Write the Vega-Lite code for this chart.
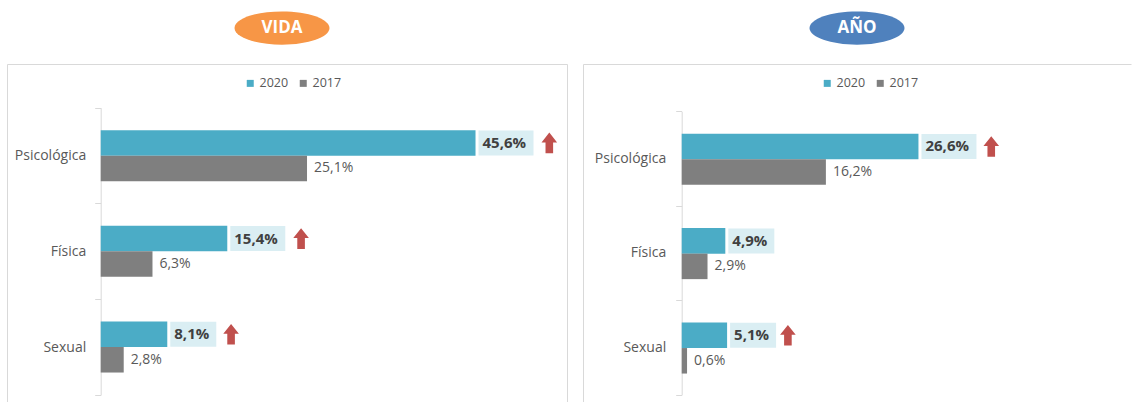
{
  "$schema": "https://vega.github.io/schema/vega-lite/v6.json",
  "padding": {"left": 6, "top": 0, "right": 0, "bottom": 0},
  "background": "white",
  "config": {
    "locale": {"number": {"decimal": ",", "thousands": ".", "grouping": [3], "currency": ["", " €"]}},
    "font": "Open Sans"
  },
  "datasets": {
    "vida": [
      {"tipo": "Psicológica", "anio": "2020", "valor": 0.456, "sube": true},
      {"tipo": "Psicológica", "anio": "2017", "valor": 0.251, "sube": false},
      {"tipo": "Física", "anio": "2020", "valor": 0.154, "sube": true},
      {"tipo": "Física", "anio": "2017", "valor": 0.063, "sube": false},
      {"tipo": "Sexual", "anio": "2020", "valor": 0.081, "sube": true},
      {"tipo": "Sexual", "anio": "2017", "valor": 0.028, "sube": false}
    ],
    "anual": [
      {"tipo": "Psicológica", "anio": "2020", "valor": 0.266, "sube": true},
      {"tipo": "Psicológica", "anio": "2017", "valor": 0.162, "sube": false},
      {"tipo": "Física", "anio": "2020", "valor": 0.049, "sube": false},
      {"tipo": "Física", "anio": "2017", "valor": 0.029, "sube": false},
      {"tipo": "Sexual", "anio": "2020", "valor": 0.051, "sube": true},
      {"tipo": "Sexual", "anio": "2017", "valor": 0.006, "sube": false}
    ]
  },
  "spacing": 14,
  "resolve": {"scale": {"color": "independent", "x": "independent", "y": "independent"}, "legend": {"color": "independent"}},
  "hconcat": [
    {
      "spacing": 0,
      "resolve": {"scale": {"color": "independent"}, "legend": {"color": "independent"}},
      "vconcat": [
        {
          "width": 550, "height": 56,
          "view": {"stroke": null},
          "data": {"values": [{"titulo": "VIDA"}]},
          "layer": [
            {"mark": {"type": "point", "filled": true, "opacity": 1, "color": "#f79646", "strokeWidth": 0, "size": 9025, "shape": "M-1,0C-1,-0.193 -0.552,-0.35 0,-0.35C0.552,-0.35 1,-0.193 1,0C1,0.193 0.552,0.35 0,0.35C-0.552,0.35 -1,0.193 -1,0Z"}, "encoding": {}},
            {"mark": {"type": "text", "color": "white", "fontWeight": "bold", "fontSize": 17, "baseline": "middle", "align": "center"}, "encoding": {"text": {"field": "titulo"}}}
          ]
        },
        {
          "width": 560, "height": 338,
          "view": {"stroke": "#d9d9d9", "strokeDash": [898, 560, 338, 0]},
          "data": {"name": "vida"},
          "encoding": {
            "y": {"field": "tipo", "type": "nominal", "sort": ["Psicológica", "Física", "Sexual"], "title": null,
                  "scale": {"paddingInner": 0, "paddingOuter": 0.266, "align": 0.86},
                  "axis": {"offset": -93.7, "domainColor": "#d9d9d9", "domainDash": [0, 43.7, 287.1, 60], "tickColor": "#d9d9d9", "tickSize": 6, "tickBand": "extent", "labelFontSize": 14, "labelColor": "#595959", "labelPadding": 9, "grid": false}},
            "x": {"field": "valor", "type": "quantitative", "scale": {"domain": [-0.114, 0.5673], "nice": false, "zero": false}, "axis": null},
            "yOffset": {"field": "anio", "sort": ["2020", "2017"], "scale": {"paddingInner": 0, "paddingOuter": 0.876}}
          },
          "layer": [
            {"mark": {"type": "bar"},
             "encoding": {"color": {"field": "anio", "type": "nominal", "scale": {"domain": ["2020", "2017"], "range": ["#4bacc6", "#7f7f7f"]},
               "legend": {"orient": "none", "legendX": 237, "legendY": 13, "direction": "horizontal", "title": null, "symbolType": "square", "symbolSize": 49, "symbolStrokeWidth": 0, "symbolOpacity": 1, "labelFontSize": 12.5, "labelColor": "#595959", "labelOffset": 3, "columnPadding": 8, "padding": 0}}}},
            {"transform": [{"filter": "datum.anio == '2020'"}],
             "mark": {"type": "point", "filled": true, "opacity": 1, "size": 400, "color": "#daeef3", "strokeWidth": 0},
             "encoding": {"shape": {"condition": {"test": "datum.valor >= 0.1", "value": "M0.3,-1.25H5.8V1.25H0.3Z"}, "value": "M0.3,-1.25H4.9V1.25H0.3Z"}}},
            {"transform": [{"filter": "datum.anio == '2020' && datum.sube"}],
             "mark": {"type": "point", "filled": true, "opacity": 1, "size": 400, "color": "#c0504d", "strokeWidth": 0},
             "encoding": {"shape": {"condition": {"test": "datum.valor >= 0.1", "value": "M7.38,-1.03L8.16,-0.05L7.76,-0.05L7.76,1.03L7,1.03L7,-0.05L6.6,-0.05Z"}, "value": "M6.38,-1.03L7.16,-0.05L6.76,-0.05L6.76,1.03L6,1.03L6,-0.05L5.6,-0.05Z"}}},
            {"transform": [{"filter": "datum.anio == '2020'"}],
             "mark": {"type": "text", "align": "left", "baseline": "middle", "dx": 7, "fontSize": 15, "fontWeight": "bold", "color": "#404040"},
             "encoding": {"text": {"field": "valor", "type": "quantitative", "format": ".1%"}}},
            {"transform": [{"filter": "datum.anio == '2017'"}],
             "mark": {"type": "text", "align": "left", "baseline": "middle", "dx": 7, "fontSize": 14, "color": "#595959"},
             "encoding": {"text": {"field": "valor", "type": "quantitative", "format": ".1%"}}}
          ]
        }
      ]
    },
    {
      "spacing": 0,
      "resolve": {"scale": {"color": "independent"}, "legend": {"color": "independent"}},
      "vconcat": [
        {
          "width": 548, "height": 56,
          "view": {"stroke": null},
          "data": {"values": [{"titulo": "AÑO"}]},
          "layer": [
            {"mark": {"type": "point", "filled": true, "opacity": 1, "color": "#4f81bd", "strokeWidth": 0, "size": 9025, "shape": "M-1,0C-1,-0.193 -0.552,-0.35 0,-0.35C0.552,-0.35 1,-0.193 1,0C1,0.193 0.552,0.35 0,0.35C-0.552,0.35 -1,0.193 -1,0Z"}, "encoding": {}},
            {"mark": {"type": "text", "color": "white", "fontWeight": "bold", "fontSize": 17, "baseline": "middle", "align": "center"}, "encoding": {"text": {"field": "titulo"}}}
          ]
        },
        {
          "width": 548, "height": 338,
          "view": {"stroke": "#d9d9d9", "strokeDash": [548, 886, 338, 0]},
          "data": {"name": "anual"},
          "encoding": {
            "y": {"field": "tipo", "type": "nominal", "sort": ["Psicológica", "Física", "Sexual"], "title": null,
                  "scale": {"paddingInner": 0, "paddingOuter": 0.29, "align": 0.865},
                  "axis": {"offset": -98.7, "domainColor": "#d9d9d9", "domainDash": [0, 47.5, 283.2, 60], "tickColor": "#d9d9d9", "tickSize": 6, "tickBand": "extent", "labelFontSize": 14, "labelColor": "#595959", "labelPadding": 10, "grid": false}},
            "x": {"field": "valor", "type": "quantitative", "scale": {"domain": [-0.1109, 0.5048], "nice": false, "zero": false}, "axis": null},
            "yOffset": {"field": "anio", "sort": ["2020", "2017"], "scale": {"paddingInner": 0, "paddingOuter": 0.888}}
          },
          "layer": [
            {"mark": {"type": "bar"},
             "encoding": {"color": {"field": "anio", "type": "nominal", "scale": {"domain": ["2020", "2017"], "range": ["#4bacc6", "#7f7f7f"]},
               "legend": {"orient": "none", "legendX": 238, "legendY": 13, "direction": "horizontal", "title": null, "symbolType": "square", "symbolSize": 49, "symbolStrokeWidth": 0, "symbolOpacity": 1, "labelFontSize": 12.5, "labelColor": "#595959", "labelOffset": 3, "columnPadding": 8, "padding": 0}}}},
            {"transform": [{"filter": "datum.anio == '2020'"}],
             "mark": {"type": "point", "filled": true, "opacity": 1, "size": 400, "color": "#daeef3", "strokeWidth": 0},
             "encoding": {"shape": {"condition": {"test": "datum.valor >= 0.1", "value": "M0.3,-1.25H5.8V1.25H0.3Z"}, "value": "M0.3,-1.25H4.9V1.25H0.3Z"}}},
            {"transform": [{"filter": "datum.anio == '2020' && datum.sube"}],
             "mark": {"type": "point", "filled": true, "opacity": 1, "size": 400, "color": "#c0504d", "strokeWidth": 0},
             "encoding": {"shape": {"condition": {"test": "datum.valor >= 0.1", "value": "M7.28,-1.03L8.06,-0.05L7.66,-0.05L7.66,1.03L6.9,1.03L6.9,-0.05L6.5,-0.05Z"}, "value": "M6.08,-1.03L6.86,-0.05L6.46,-0.05L6.46,1.03L5.7,1.03L5.7,-0.05L5.3,-0.05Z"}}},
            {"transform": [{"filter": "datum.anio == '2020'"}],
             "mark": {"type": "text", "align": "left", "baseline": "middle", "dx": 7, "fontSize": 15, "fontWeight": "bold", "color": "#404040"},
             "encoding": {"text": {"field": "valor", "type": "quantitative", "format": ".1%"}}},
            {"transform": [{"filter": "datum.anio == '2017'"}],
             "mark": {"type": "text", "align": "left", "baseline": "middle", "dx": 7, "fontSize": 14, "color": "#595959"},
             "encoding": {"text": {"field": "valor", "type": "quantitative", "format": ".1%"}}}
          ]
        }
      ]
    }
  ]
}
